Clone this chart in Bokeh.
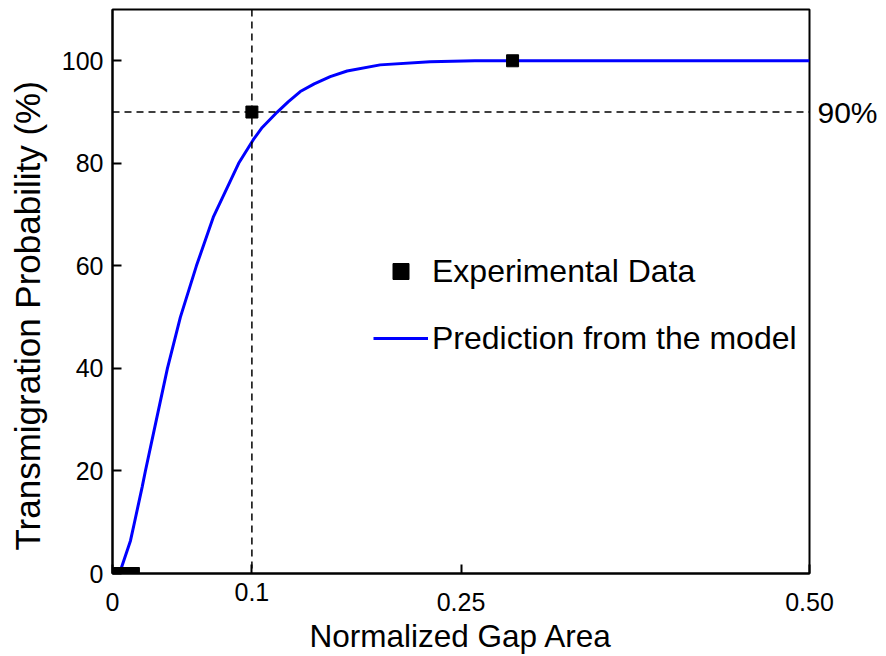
from bokeh.plotting import figure
from bokeh.models import (Range1d, FixedTicker, Span, Legend, LegendItem,
                          LinearAxis)
from bokeh.embed import file_html
from bokeh.resources import INLINE

# Experimental data
exp_x = [0.005, 0.010, 0.015, 0.100, 0.287]
exp_y = [0, 0, 0, 90, 100]

# Model prediction
model_x = [0.0050, 0.0129, 0.0158, 0.0213, 0.0236, 0.0315, 0.0394, 0.0487,
           0.0602, 0.0723, 0.0905, 0.1010, 0.1074, 0.1182, 0.1260, 0.1347,
           0.1447, 0.1562, 0.1683, 0.1920, 0.2278, 0.26, 0.5]
model_y = [0, 6.4, 10.0, 16.9, 20.0, 30.0, 40.0, 50.0,
           60.0, 69.5, 80.0, 84.6, 87.0, 90.0, 92.0, 94.0,
           95.5, 96.9, 98.0, 99.2, 99.8, 100, 100]

x_ticks = [0, 0.1, 0.25, 0.5]
x_tick_labels = ["0", "0.1", "0.25", "0.50"]
y_ticks = [0, 20, 40, 60, 80, 100]
threshold_x = 0.1
threshold_y = 90
threshold_label = "90%"

FONT = "Liberation Sans"

p = figure(width=880, height=656, output_backend="svg", toolbar_location=None,
           x_range=Range1d(0, 0.5), y_range=Range1d(0, 110),
           min_border_left=112, min_border_right=70, min_border_top=9,
           min_border_bottom=83)
p.grid.visible = False
p.outline_line_color = "black"
p.outline_line_width = 2


def style(ax):
    ax.axis_line_width = 2
    ax.major_tick_in = 9
    ax.major_tick_out = 0
    ax.minor_tick_in = 0
    ax.minor_tick_out = 0
    ax.major_tick_line_width = 2
    ax.major_label_text_font = FONT
    ax.major_label_text_font_size = "25px"
    ax.major_label_text_color = "black"
    ax.axis_label_text_font = FONT
    ax.axis_label_text_font_size = "31.5px"
    ax.axis_label_text_font_style = "normal"
    ax.axis_label_text_color = "black"


# inner x axis: line, ticks and the raised "0.1" label
xa = p.xaxis[0]
style(xa)
xa.ticker = FixedTicker(ticks=x_ticks)
xa.major_label_overrides = {t: (l if t == threshold_x else "")
                            for t, l in zip(x_ticks, x_tick_labels)}
xa.major_label_standoff = 9

# outer x axis: remaining tick labels and the axis title
xb = LinearAxis(ticker=FixedTicker(ticks=[t for t in x_ticks if t != threshold_x]))
style(xb)
xb.axis_line_color = None
xb.major_tick_line_color = None
xb.major_label_overrides = {t: l for t, l in zip(x_ticks, x_tick_labels)
                            if t != threshold_x}
xb.major_label_standoff = -11
xb.axis_label = "Normalized Gap Area"
xb.axis_label_standoff = 4
p.add_layout(xb, "below")

ya = p.yaxis[0]
style(ya)
ya.ticker = FixedTicker(ticks=y_ticks)
ya.major_label_standoff = 9
# trailing no-break spaces shift the title down, as in the original figure
ya.axis_label = "Transmigration Probability (%)" + "\u00a0" * 5
ya.axis_label_text_font_size = "35px"
ya.axis_label_standoff = 12

# right axis carrying the "90%" marker label
yr = LinearAxis(ticker=FixedTicker(ticks=[threshold_y]))
style(yr)
yr.axis_line_color = None
yr.major_tick_line_color = None
yr.major_label_overrides = {threshold_y: threshold_label}
yr.major_label_text_font_size = "30px"
yr.major_label_standoff = 8
p.add_layout(yr, "right")

# threshold dashed lines
p.add_layout(Span(location=threshold_x, dimension="height", line_color="black",
                  line_dash="7 5", line_width=1.5))
p.add_layout(Span(location=threshold_y, dimension="width", line_color="black",
                  line_dash="7 5", line_width=1.5))

line_r = p.line(model_x, model_y, line_color="#0000ff", line_width=3)
sq_r = p.scatter(exp_x, exp_y, marker="square", size=12, fill_color="black",
                 line_color="black")

legend = Legend(items=[LegendItem(label="Experimental Data", renderers=[sq_r]),
                       LegendItem(label="Prediction from the model", renderers=[line_r])],
                location=(261, 215), border_line_color=None,
                background_fill_alpha=0, glyph_width=55, glyph_height=40,
                spacing=27, padding=10, margin=0, label_standoff=4,
                label_text_font=FONT, label_text_font_size="32px",
                label_text_color="black")
p.add_layout(legend)

open("out.html", "w").write(file_html(p, INLINE))
